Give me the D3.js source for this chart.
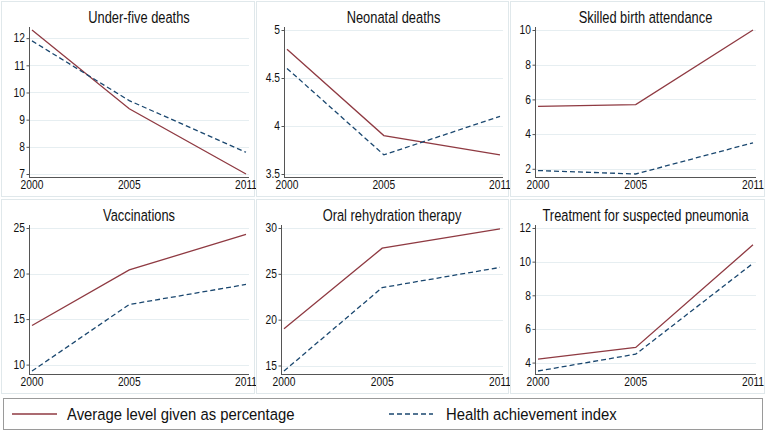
<!DOCTYPE html>
<html>
<head>
<meta charset="utf-8">
<script src="https://cdn.jsdelivr.net/npm/d3@7"></script>
<style>
  html, body { margin: 0; padding: 0; background: #ffffff; }
  svg { display: block; }
</style>
</head>
<body>
<svg id="chart" width="766" height="433"></svg>
<script>
// ---------- data ----------
const years = [2000, 2005, 2011];
const xTicks = [2000, 2005, 2011];
const titles = [
  "Under-five deaths", "Neonatal deaths", "Skilled birth attendance",
  "Vaccinations", "Oral rehydration therapy", "Treatment for suspected pneumonia"
];
const seriesNames = ["Average level given as percentage", "Health achievement index"];
const avgLevel = [
  [12.3, 9.4, 7.0],
  [4.8, 3.9, 3.7],
  [5.6, 5.7, 10.0],
  [14.3, 20.4, 24.3],
  [19.0, 27.8, 29.9],
  [4.2, 4.9, 11.0]
];
const healthIndex = [
  [11.9, 9.7, 7.8],
  [4.6, 3.7, 4.1],
  [1.9, 1.7, 3.5],
  [9.3, 16.6, 18.8],
  [14.4, 23.5, 25.7],
  [3.5, 4.5, 9.9]
];
const yTicks = [
  [7, 8, 9, 10, 11, 12],
  [3.5, 4, 4.5, 5],
  [2, 4, 6, 8, 10],
  [10, 15, 20, 25],
  [15, 20, 25, 30],
  [4, 6, 8, 10, 12]
];

// ---------- layout ----------
const colLeft = [1, 256, 510];
const colRight = [254, 508, 764];
const rowTop = [1, 199];
const rowBottom = [196, 393];
const axisXs = [29, 284, 535, 29, 281, 535];
const plotRight = [246, 500, 753];
const dataTop = [30, 228];
const dataBottom = [174, 371];

const colors = { avg: "#8f3a42", hai: "#1a476f", grid: "#e6eef1", border: "#e0e8eb", axis: "#555" };
const FONT = "'Liberation Sans',Arial,sans-serif";

const svg = d3.select("#chart");

function txt(parent, x, y, s, size, anchor, sq) {
  const g = parent.append("g").attr("transform", `translate(${x},${y}) scale(${sq || 0.82},1)`);
  g.append("text")
    .attr("font-family", FONT)
    .attr("font-size", size)
    .attr("text-anchor", anchor || "start")
    .attr("fill", "#111")
    .text(s);
  return g;
}

titles.forEach((title, i) => {
  const c = i % 3, r = Math.floor(i / 3);
  const g = svg.append("g");
  g.append("rect")
    .attr("x", colLeft[c] + 0.5).attr("y", rowTop[r] + 0.5)
    .attr("width", colRight[c] - colLeft[c]).attr("height", rowBottom[r] - rowTop[r])
    .attr("fill", "#fff").attr("stroke", colors.border).attr("stroke-width", 1);

  const ax = axisXs[i];
  const x = d3.scaleLinear().domain([years[0], years[years.length - 1]]).range([ax + 3, plotRight[c]]);
  const all = avgLevel[i].concat(healthIndex[i], yTicks[i]);
  const y = d3.scaleLinear().domain(d3.extent(all)).range([dataBottom[r], dataTop[r]]);
  const yB = dataBottom[r] + 3.5, yT = dataTop[r] - 3;
  const xR = plotRight[c] + 3;

  // grid
  g.selectAll(".grid").data(yTicks[i]).join("line")
    .attr("x1", ax).attr("x2", xR)
    .attr("y1", d => Math.round(y(d)) + 0.5).attr("y2", d => Math.round(y(d)) + 0.5)
    .attr("stroke", colors.grid).attr("stroke-width", 1);

  // y axis
  const yAxis = d3.axisLeft(y).tickValues(yTicks[i]).tickSize(3).tickSizeOuter(0).tickFormat(d3.format("~g"));
  const ya = g.append("g").attr("transform", `translate(${ax + 0.5},0)`).call(yAxis);
  ya.select(".domain").remove();
  ya.selectAll(".tick line").attr("stroke", colors.axis);
  ya.selectAll(".tick text").remove();
  yTicks[i].forEach(t => txt(g, ax - 4, y(t) + 4.3, d3.format("~g")(t), 12.5, "end"));
  g.append("line").attr("x1", ax + 0.5).attr("x2", ax + 0.5).attr("y1", yT).attr("y2", yB)
    .attr("stroke", colors.axis).attr("stroke-width", 1);

  // x axis
  const xAxis = d3.axisBottom(x).tickValues(xTicks).tickSize(0).tickSizeOuter(0);
  const xa = g.append("g").attr("transform", `translate(0,${yB})`).call(xAxis);
  xa.select(".domain").remove();
  xa.selectAll(".tick text").remove();
  xTicks.forEach(t => txt(g, x(t), yB + 11.5, String(t), 12.5, "middle"));
  g.append("line").attr("x1", ax).attr("x2", xR).attr("y1", yB).attr("y2", yB)
    .attr("stroke", colors.axis).attr("stroke-width", 1);

  // title
  txt(g, (ax + xR) / 2, rowTop[r] + 21.5, title, 16.5, "middle", 0.78);

  const line = d3.line().x((d, k) => x(years[k])).y(d => y(d));
  g.append("path").datum(avgLevel[i]).attr("d", line)
    .attr("fill", "none").attr("stroke", colors.avg).attr("stroke-width", 1.3);
  g.append("path").datum(healthIndex[i]).attr("d", line)
    .attr("fill", "none").attr("stroke", colors.hai).attr("stroke-width", 1.3)
    .attr("stroke-dasharray", "5,3");
});

// legend
const lg = svg.append("g");
lg.append("rect").attr("x", 3.5).attr("y", 398.5).attr("width", 759).attr("height", 31)
  .attr("fill", "#fff").attr("stroke", "#9a9a9a").attr("stroke-width", 1);
const legendKeys = [
  { name: seriesNames[0], color: colors.avg, dash: null, x0: 12, x1: 57, tx: 67 },
  { name: seriesNames[1], color: colors.hai, dash: "5,3", x0: 389, x1: 433, tx: 446 }
];
legendKeys.forEach(k => {
  lg.append("line").attr("x1", k.x0).attr("x2", k.x1).attr("y1", 414).attr("y2", 414)
    .attr("stroke", k.color).attr("stroke-width", 1.3).attr("stroke-dasharray", k.dash);
  txt(lg, k.tx, 419.5, k.name, 16.5, "start", 0.9);
});
</script>
</body>
</html>
